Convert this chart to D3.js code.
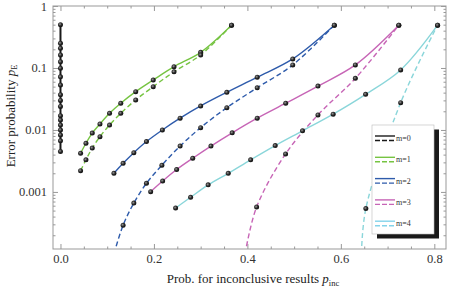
<!doctype HTML>
<html lang="en">
<head>
<title>Error probability vs inconclusive results</title>
<script src="https://d3js.org/d3.v7.min.js"></script>
<style type="text/css">
  body { margin: 0; background: #fff; }
  .axis text { font-family: "Liberation Serif", serif; font-size: 12.5px; fill: #333; }
  .axis line { stroke: #999; }
  .axis path { display: none; }
  .lab { font-family: "Liberation Serif", serif; font-size: 13px; fill: #222; }
  .leg { font-family: "Liberation Serif", serif; font-size: 8px; fill: #333; }
</style>
</head>
<body>
<script type="text/javascript">

// data: [p_inc, p_E]
var m0 = [[0,0.0045],[0,0.0067],[0,0.0083],[0,0.010],[0,0.012],[0,0.0145],[0,0.017],[0,0.024],
          [0,0.030],[0,0.037],[0,0.053],[0,0.072],[0,0.099],[0,0.126],[0,0.162],[0,0.208],[0,0.25],[0,0.5]];

var m1Solid = [[0.043,0.0042],[0.0545,0.0061],[0.068,0.0089],[0.0845,0.0125],[0.105,0.0186],[0.129,0.027],
               [0.161,0.0415],[0.1985,0.064],[0.243,0.105],[0.30,0.179],[0.366,0.49]];
var m1Dash  = [[0.043,0.0022],[0.0545,0.0033],[0.068,0.0051],[0.0845,0.0078],[0.105,0.012],[0.129,0.0186],
               [0.161,0.0305],[0.1985,0.05],[0.243,0.087],[0.30,0.162],[0.366,0.49]];

var m2Solid = [[0.1144,0.0020],[0.134,0.0029],[0.157,0.0043],[0.184,0.0065],[0.218,0.010],[0.256,0.0155],
               [0.30,0.0244],[0.356,0.0405],[0.421,0.071],[0.497,0.14],[0.586,0.49]];
var m2Dash  = [[0.1144,0.0001],[0.134,0.00029],[0.157,0.00066],[0.184,0.00138],[0.217,0.0027],[0.256,0.0055],
               [0.30,0.0109],[0.356,0.0229],[0.421,0.048],[0.497,0.112],[0.586,0.49]];

var m3Solid = [[0.193,0.00101],[0.2186,0.0015],[0.2486,0.0023],[0.283,0.0035],[0.322,0.0055],[0.3675,0.009],
               [0.421,0.0155],[0.482,0.027],[0.551,0.051],[0.631,0.112],[0.724,0.49]];
var m3Dash  = [[0.395,0.0001],[0.4197,0.00057],[0.4817,0.0041],[0.551,0.0175],[0.631,0.068],[0.724,0.49]];

var m4Solid = [[0.2464,0.00055],[0.2785,0.00082],[0.316,0.0013],[0.359,0.0020],[0.407,0.0033],[0.4595,0.0056],
               [0.518,0.0097],[0.5835,0.018],[0.653,0.0376],[0.728,0.093],[0.807,0.49]];
var m4Dash  = [[0.644,0.0001],[0.6535,0.00054],[0.728,0.0276],[0.807,0.49]];

var legendLabels = ["m=0", "m=1", "m=2", "m=3", "m=4"];
var colours = ["#1a1a1a", "#76c442", "#2e5bab", "#c765b6", "#8ad6da"];
var legendColours = ["#1a1a1a", "#76c442", "#2e5bab", "#c765b6", "#83d3ea"];

var xMajor = [0, 0.2, 0.4, 0.6, 0.8];
var yMajor = [1, 0.1, 0.01, 0.001];

// dimensions of the frame
var W = 458, H = 289;
var fLeft = 53, fRight = 446, fTop = 6, fBottom = 249;

var svg = d3.select("body").append("svg")
    .attr("width", W)
    .attr("height", H);

var x = d3.scaleLinear().domain([-0.016, 0.825]).range([fLeft, fRight]);
var y = d3.scaleLog().domain([1.2e-4, 1]).range([fBottom, fTop]);

// minor tick values
var xMinor = d3.range(0, 0.826, 0.05).filter(function(v) {
  return xMajor.every(function(m) { return Math.abs(m - v) > 1e-6; });
});
var yMinor = [];
[-4, -3, -2, -1].forEach(function(e) {
  for (var k = 2; k <= 9; k++) {
    var v = k * Math.pow(10, e);
    if (v >= 1.2e-4 && v <= 1) yMinor.push(v);
  }
});

// frame
svg.append("rect")
  .attr("x", fLeft).attr("y", fTop)
  .attr("width", fRight - fLeft).attr("height", fBottom - fTop)
  .attr("fill", "none").attr("stroke", "#999").attr("stroke-width", 1);

// axes, ticks pointing inward
svg.append("g").attr("class", "axis")
  .attr("transform", "translate(0," + fBottom + ")")
  .call(d3.axisBottom(x).tickValues(xMajor).tickSize(-5).tickPadding(5).tickFormat(d3.format(".1f")));
svg.append("g").attr("class", "axis")
  .attr("transform", "translate(0," + fBottom + ")")
  .call(d3.axisBottom(x).tickValues(xMinor).tickSize(-2.5).tickFormat(""));
svg.append("g").attr("class", "axis")
  .attr("transform", "translate(0," + fTop + ")")
  .call(d3.axisTop(x).tickValues(xMajor).tickSize(-5).tickFormat(""));
svg.append("g").attr("class", "axis")
  .attr("transform", "translate(0," + fTop + ")")
  .call(d3.axisTop(x).tickValues(xMinor).tickSize(-2.5).tickFormat(""));

svg.append("g").attr("class", "axis")
  .attr("transform", "translate(" + fLeft + ",0)")
  .call(d3.axisLeft(y).tickValues(yMajor).tickSize(-5).tickPadding(6).tickFormat(function(d) { return String(+d.toPrecision(1)); }));
svg.append("g").attr("class", "axis")
  .attr("transform", "translate(" + fLeft + ",0)")
  .call(d3.axisLeft(y).tickValues(yMinor).tickSize(-2.5).tickFormat(""));
svg.append("g").attr("class", "axis")
  .attr("transform", "translate(" + fRight + ",0)")
  .call(d3.axisRight(y).tickValues(yMajor).tickSize(-5).tickFormat(""));
svg.append("g").attr("class", "axis")
  .attr("transform", "translate(" + fRight + ",0)")
  .call(d3.axisRight(y).tickValues(yMinor).tickSize(-2.5).tickFormat(""));

// axis titles
var xt = svg.append("text").attr("class", "lab")
  .attr("x", 253).attr("y", 283).attr("text-anchor", "middle");
xt.append("tspan").text("Prob. for inconclusive results ");
xt.append("tspan").attr("font-style", "italic").text("p");
xt.append("tspan").attr("font-size", "8.5px").attr("dy", 2.5).text("inc");

var yt = svg.append("text").attr("class", "lab")
  .attr("transform", "translate(14.5,116) rotate(-90)").attr("text-anchor", "middle");
yt.append("tspan").text("Error probability ");
yt.append("tspan").attr("font-style", "italic").text("p");
yt.append("tspan").attr("font-size", "8.5px").attr("dy", 2.5).text("E");

// dot shading
var defs = svg.append("defs");
var grad = defs.append("radialGradient").attr("id", "dot")
  .attr("cx", "40%").attr("cy", "40%").attr("r", "60%");
grad.append("stop").attr("offset", "0%").attr("stop-color", "#9a9a9a");
grad.append("stop").attr("offset", "55%").attr("stop-color", "#2a2a2a");
grad.append("stop").attr("offset", "100%").attr("stop-color", "#111");

defs.append("clipPath").attr("id", "clip")
  .append("rect").attr("x", fLeft).attr("y", fTop).attr("width", fRight - fLeft).attr("height", fBottom - fTop);

var plot = svg.append("g").attr("clip-path", "url(#clip)");

var line = d3.line()
  .x(function(d) { return x(d[0]); })
  .y(function(d) { return y(d[1]); })
  .curve(d3.curveCatmullRom.alpha(0.5));

function drawSeries(data, colour, dashed, width) {
  plot.append("path")
    .datum(data)
    .attr("fill", "none")
    .attr("stroke", colour)
    .attr("stroke-width", width)
    .attr("stroke-dasharray", dashed ? "5,3" : null)
    .attr("d", line);
}

function drawDots(data) {
  plot.append("g")
    .selectAll("circle")
    .data(data.filter(function(d) { return d[1] >= 1.2e-4; }))
    .enter()
    .append("circle")
    .attr("cx", function(d) { return x(d[0]); })
    .attr("cy", function(d) { return y(d[1]); })
    .attr("r", 2.5)
    .attr("fill", "url(#dot)");
}

drawSeries(m0, colours[0], false, 2);
drawSeries(m1Solid, colours[1], false, 1.4);
drawSeries(m1Dash, colours[1], true, 1.4);
drawSeries(m2Solid, colours[2], false, 1.4);
drawSeries(m2Dash, colours[2], true, 1.4);
drawSeries(m3Solid, colours[3], false, 1.4);
drawSeries(m3Dash, colours[3], true, 1.4);
drawSeries(m4Solid, colours[4], false, 1.4);
drawSeries(m4Dash, colours[4], true, 1.4);

[m0, m1Solid, m1Dash, m2Solid, m2Dash, m3Solid, m3Dash, m4Solid, m4Dash].forEach(drawDots);

// legend with drop shadow
var lx = 372, ly = 125, lw = 62, lh = 109;
svg.append("rect").attr("x", lx + 5).attr("y", ly + 4.5).attr("width", lw).attr("height", lh).attr("fill", "#1a1a1a");
svg.append("rect").attr("x", lx).attr("y", ly).attr("width", lw).attr("height", lh)
  .attr("fill", "#fff").attr("stroke", "#bbb").attr("stroke-width", 0.6);

var leg = svg.append("g").selectAll("g").data(legendLabels).enter().append("g")
  .attr("transform", function(d, i) { return "translate(" + (lx + 3) + "," + (ly + 11 + i * 21.3) + ")"; });
leg.append("line").attr("x1", 0).attr("x2", 20).attr("y1", 0).attr("y2", 0)
  .attr("stroke", function(d, i) { return legendColours[i]; }).attr("stroke-width", 1.4);
leg.append("line").attr("x1", 0).attr("x2", 20).attr("y1", 4.5).attr("y2", 4.5)
  .attr("stroke", function(d, i) { return legendColours[i]; }).attr("stroke-width", 1.4)
  .attr("stroke-dasharray", "5,2");
leg.append("text").attr("class", "leg").attr("x", 21).attr("y", 5).text(function(d) { return d; });

</script>
</body>
</html>
